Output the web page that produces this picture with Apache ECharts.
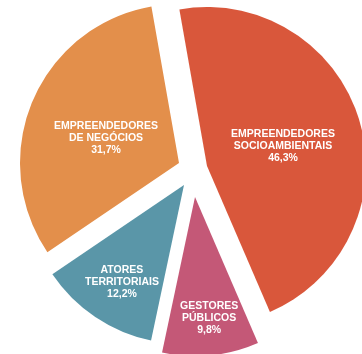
<!DOCTYPE html>
<html>
<head>
<meta charset="utf-8">
<script src="https://cdn.jsdelivr.net/npm/echarts@6/dist/echarts.min.js"></script>
<style>
  html, body { margin: 0; padding: 0; background: #ffffff; }
  #chart { width: 362px; height: 354px; }
</style>
</head>
<body>
<div id="chart"></div>
<script>
// Segment names (clockwise from the top) and their shares in percent
const categories = [
  'EMPREENDEDORES\nSOCIOAMBIENTAIS',
  'GESTORES\nPÚBLICOS',
  'ATORES\nTERRITORIAIS',
  'EMPREENDEDORES\nDE NEGÓCIOS'
];
const shares = [46.3, 9.8, 12.2, 31.7];
const colors = ['#D9573B', '#C45877', '#5A96A8', '#E38F4B'];

// Each slice is pulled out of the pie by its own amount, so every slice
// gets its own series (same data, only one segment visible) and its own centre.
const sliceLayout = [
  { center: [207, 166], labelShift: { dx: -3, dy: 4 } },
  { center: [195, 197], labelShift: { dx: 6, dy: 39 } },
  { center: [184, 185], labelShift: { dx: -16, dy: 29 } },
  { center: [179, 163], labelShift: { dx: 3, dy: 7 } }
];

const fmt = v => v.toFixed(1).replace('.', ',') + '%';

const series = sliceLayout.map((layout, idx) => ({
  type: 'pie',
  center: layout.center,
  radius: [0, 159],
  startAngle: 100,
  clockwise: true,
  silent: true,
  animation: false,
  avoidLabelOverlap: false,
  labelLine: { show: false },
  labelLayout: layout.labelShift,
  data: categories.map((name, j) => ({
    name: name,
    value: shares[j],
    itemStyle: j === idx ? { color: colors[j] } : { color: 'rgba(0,0,0,0)' },
    label: j === idx ? {
      show: true,
      position: 'inside',
      formatter: p => p.name + '\n' + fmt(p.value),
      color: '#ffffff',
      fontFamily: 'Liberation Sans, Arial, sans-serif',
      fontSize: 10.5,
      fontWeight: 'bold',
      lineHeight: 12,
      align: 'center'
    } : { show: false }
  }))
}));

const chart = echarts.init(document.getElementById('chart'));
chart.setOption({
  backgroundColor: '#ffffff',
  series: series
});
</script>
</body>
</html>
